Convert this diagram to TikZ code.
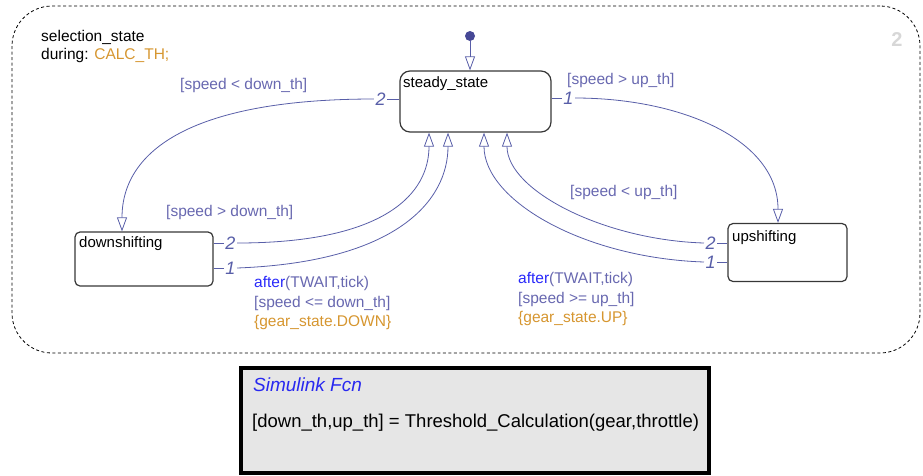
\documentclass[tikz,border=0pt]{standalone}
\usepackage{fontspec}
\setmainfont{Liberation Sans}
\usetikzlibrary{arrows.meta,positioning,calc}
\definecolor{trans}{RGB}{88,94,168}
\definecolor{lbl}{RGB}{104,104,176}
\definecolor{kw}{RGB}{40,40,250}
\definecolor{act}{RGB}{214,150,48}
\definecolor{sbd}{RGB}{55,55,55}
\definecolor{fcnbg}{RGB}{230,230,230}
\definecolor{fcnblue}{RGB}{40,40,240}
\definecolor{initdot}{RGB}{70,72,150}
\definecolor{boxnum}{RGB}{215,215,215}
\begin{document}
\begin{tikzpicture}[x=1pt,y=-1pt,
 state/.style={draw=sbd,line width=1.2pt,rounded corners=5pt,inner sep=0pt},
 stext/.style={anchor=west,inner sep=0pt,font=\fontsize{15}{17}\selectfont,text=black},
 glabel/.style={anchor=west,inner sep=0pt,font=\fontsize{15.5}{19.3}\selectfont,text=lbl,align=left},
 num/.style={inner sep=1.5pt,font=\fontsize{18}{20}\selectfont\itshape,text=trans},
 tr/.style={draw=trans,line width=0.8pt,-{Triangle[open,length=14pt,width=10pt]}},
 stub/.style={draw=trans,line width=0.8pt},
]
\useasboundingbox (0,0) rectangle (923,475);

% outer superstate
\node[draw=black,line width=0.8pt,dash pattern=on 3pt off 2.5pt,rounded corners=40pt,
  minimum width=908pt,minimum height=347pt,inner sep=0pt] (sel) at (466,179.5) {};
\node[anchor=west,align=left,inner sep=0pt,font=\fontsize{15.5}{18}\selectfont] (seltxt) at (41,46)
  {selection\_state\\during: \textcolor{act}{CALC\_TH;}};
\node[font=\fontsize{20}{22}\selectfont\bfseries,text=boxnum,inner sep=0pt] (selnum) at (897,40) {2};

% states
\node[state,rounded corners=10pt,minimum width=151pt,minimum height=61pt] (steady) at (475.5,101.5) {};
\node[stext] (steadytxt) at (403,84) {steady\_state};
\node[state,minimum width=138pt,minimum height=54pt] (down) at (144,259) {};
\node[stext] (downtxt) at (79,244) {downshifting};
\node[state,minimum width=119pt,minimum height=58pt] (up) at (787.5,252.5) {};
\node[stext] (uptxt) at (732,238) {upshifting};

% default transition
\node[circle,fill=initdot,inner sep=0pt,minimum size=10pt] (init) at (470,36) {};
\draw[tr] (init) -- ($(steady.north)+(-5.5,0)$);

% steady -> downshifting
\coordinate (sdA) at ($(steady.west)+(0,-2.5)$);
\node[num,left=12pt of sdA] (sdN) {2};
\draw[stub] (sdA) -- (sdN.east);
\draw[tr] (sdN.west) .. controls +(-180,0) and +(0,-82) .. ($(down.north)+(-22,0)$);

% steady -> upshifting
\coordinate (suA) at ($(steady.east)+(0,-3.5)$);
\node[num,right=10pt of suA] (suN) {1};
\draw[stub] (suA) -- (suN.west);
\draw[tr] (suN.east) .. controls +(105,0) and +(0,-84) .. ($(up.north)+(-9.5,0)$);

% downshifting -> steady
\coordinate (ds2A) at ($(down.east)+(0,-16)$);
\node[num,right=10pt of ds2A] (ds2N) {2};
\draw[stub] (ds2A) -- (ds2N.west);
\draw[tr] (ds2N.east) .. controls +(150,0) and +(0,60) .. ($(steady.south)+(-46.5,0)$);
\coordinate (ds1A) at ($(down.east)+(0,9)$);
\node[num,right=10pt of ds1A] (ds1N) {1};
\draw[stub] (ds1A) -- (ds1N.west);
\draw[tr] (ds1N.east) .. controls +(160,-6) and +(0,68) .. ($(steady.south)+(-27.5,0)$);

% upshifting -> steady
\coordinate (us2A) at ($(up.west)+(0,-9.5)$);
\node[num,left=10pt of us2A] (us2N) {2};
\draw[stub] (us2A) -- (us2N.east);
\draw[tr] (us2N.west) .. controls +(-100,-3) and +(0,58) .. ($(steady.south)+(31.5,0)$);
\coordinate (us1A) at ($(up.west)+(0,9.5)$);
\node[num,left=10pt of us1A] (us1N) {1};
\draw[stub] (us1A) -- (us1N.east);
\draw[tr] (us1N.west) .. controls +(-120,-4) and +(0,68) .. ($(steady.south)+(8.5,0)$);

% transition labels
\node[glabel] (l1) at (180,85) {[speed < down\_th]};
\node[glabel] (l2) at (567,80) {[speed > up\_th]};
\node[glabel] (l3) at (166,212) {[speed > down\_th]};
\node[glabel] (l4) at (570,192) {[speed < up\_th]};
\node[glabel] (l5) at (254,303) {\textcolor{kw}{after}(TWAIT,tick)\\{}[speed <= down\_th]\\\textcolor{act}{\{gear\_state.DOWN\}}};
\node[glabel] (l6) at (518,299) {\textcolor{kw}{after}(TWAIT,tick)\\{}[speed >= up\_th]\\\textcolor{act}{\{gear\_state.UP\}}};

% Simulink function
\node[draw=black,line width=3.2pt,fill=fcnbg,minimum width=468pt,minimum height=105pt,inner sep=0pt] (fcn) at (475,420.5) {};
\node[anchor=west,inner sep=0pt,font=\fontsize{19}{22}\selectfont\itshape,text=fcnblue] (fcntitle) at (253,385) {Simulink Fcn};
\node[anchor=west,inner sep=0pt,font=\fontsize{18.5}{22}\selectfont] (fcnbody) at (252,423) {[down\_th,up\_th] = Threshold\_Calculation(gear,throttle)};
\end{tikzpicture}
\end{document}
